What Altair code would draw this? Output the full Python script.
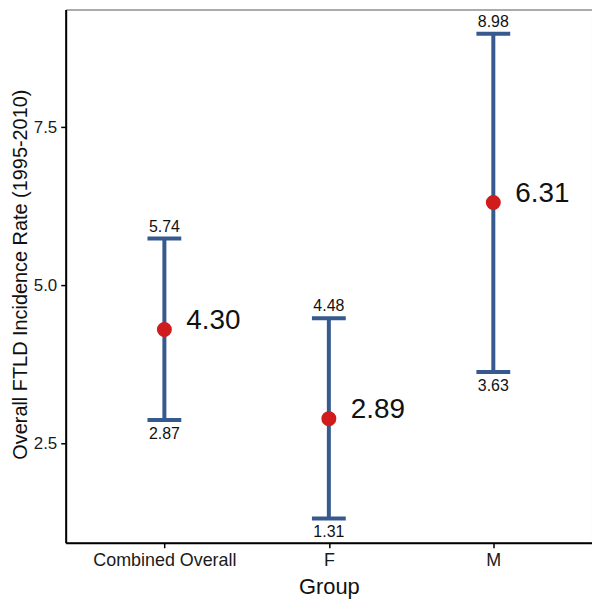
import altair as alt
import pandas as pd

groups = ["Combined Overall", "F", "M"]
means = [4.30, 2.89, 6.31]
lowers = [2.87, 1.31, 3.63]
uppers = [5.74, 4.48, 8.98]

df = pd.DataFrame({
    "Group": groups,
    "mean": means,
    "lower": lowers,
    "upper": uppers,
})
df["mean_lbl"] = [f"{v:.2f}" for v in means]
df["lower_lbl"] = [f"{v:.2f}" for v in lowers]
df["upper_lbl"] = [f"{v:.2f}" for v in uppers]

FONT = "Liberation Sans"
BLUE = "#365A8E"
RED = "#D01C1C"

x_enc = alt.X(
    "Group:N",
    sort=groups,
    scale=alt.Scale(type="point", padding=0.6),
    axis=alt.Axis(
        title="Group",
        labelAngle=0,
        labelFontSize=18,
        titleBaseline="alphabetic",
        titleY=51,
    ),
)
y_scale = alt.Scale(domain=[0.9265, 9.3635], nice=False, zero=False)
y_axis = alt.Axis(
    title="Overall FTLD Incidence Rate (1995-2010)",
    values=[2.5, 5.0, 7.5],
    format=".1f",
    titleBaseline="alphabetic",
    titleAngle=-90,
    titleX=-39,
    titleY=266,
    titleFontSize=20,
    labelFontSize=17,
    grid=False,
)

base = alt.Chart(df)

rule = base.mark_rule(strokeWidth=4, color=BLUE).encode(
    x=x_enc,
    y=alt.Y("lower:Q", scale=y_scale, axis=y_axis),
    y2="upper:Q",
)
cap_lo = base.mark_tick(size=34, thickness=4, color=BLUE, opacity=1).encode(
    x=x_enc, y=alt.Y("lower:Q", scale=y_scale)
)
cap_hi = base.mark_tick(size=34, thickness=4, color=BLUE, opacity=1).encode(
    x=x_enc, y=alt.Y("upper:Q", scale=y_scale)
)
pts = base.mark_circle(size=227, color=RED, opacity=1).encode(
    x=x_enc, y=alt.Y("mean:Q", scale=y_scale)
)
txt_hi = base.mark_text(fontSize=16, font=FONT, dy=-12, baseline="middle", color="#111").encode(
    x=x_enc, y=alt.Y("upper:Q", scale=y_scale), text="upper_lbl:N"
)
txt_lo = base.mark_text(fontSize=16, font=FONT, dy=14, baseline="middle", color="#111").encode(
    x=x_enc, y=alt.Y("lower:Q", scale=y_scale), text="lower_lbl:N"
)
txt_mean = base.mark_text(fontSize=28, font=FONT, dx=22, dy=-9, align="left", baseline="middle", color="#111").encode(
    x=x_enc, y=alt.Y("mean:Q", scale=y_scale), text="mean_lbl:N"
)

chart = alt.layer(rule, cap_lo, cap_hi, pts, txt_hi, txt_lo, txt_mean).properties(
    width=529,
    height=536,
    autosize=alt.AutoSizeParams(type="none"),
    padding={"left": 58, "top": 0, "right": 0, "bottom": 56},
).configure_view(
    stroke="#555555",
    strokeWidth=1,
).configure_axis(
    labelFont=FONT,
    titleFont=FONT,
    titleFontSize=22,
    titleFontWeight="normal",
    labelColor="#1a1a1a",
    titleColor="#111111",
    domainColor="#000000",
    domainWidth=2,
    tickColor="#000000",
    tickWidth=1.5,
    tickSize=5,
    labelPadding=4,
    grid=False,
)

chart.save("out.html", embed_options={"renderer": "svg", "actions": False})
